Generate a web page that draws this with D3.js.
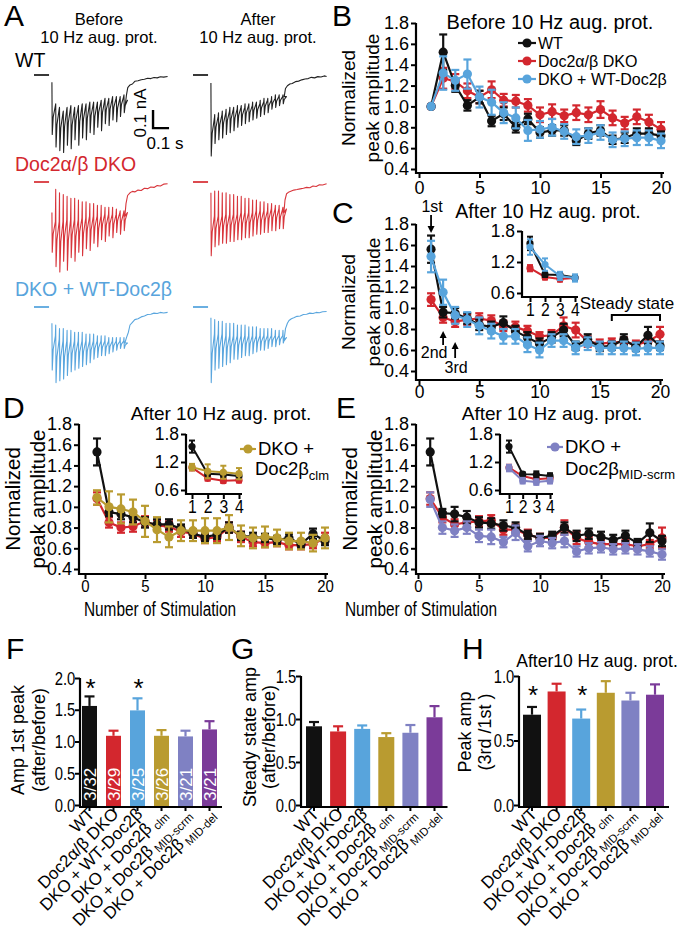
<!DOCTYPE html>
<html><head><meta charset="utf-8">
<script src="https://cdn.jsdelivr.net/npm/d3@7/dist/d3.min.js"></script>
<style>
html,body{margin:0;padding:0;background:#fff;}
svg{display:block;font-family:"Liberation Sans",Arial,Helvetica,sans-serif;}
</style></head><body>
<svg id="fig" width="677" height="933"></svg>
<script>
// ================= DATA =================
const stimNumbers = d3.range(1, 21);
const yTicksLine = [0.4, 0.6, 0.8, 1.0, 1.2, 1.4, 1.6, 1.8];
const xTicksLine = [0, 5, 10, 15, 20];
const insetYTicks = [0.6, 1.2, 1.8];
const insetXTicks = [1, 2, 3, 4];

// Panel B : before 10 Hz augmentation protocol
const bWT     = [1.00,1.52,1.20,1.01,1.09,0.86,0.93,0.80,0.88,0.75,0.77,0.77,0.67,0.74,0.77,0.68,0.70,0.74,0.74,0.72];
const bWTErr  = [0,0.17,0.06,0.05,0.06,0.05,0.06,0.05,0.05,0.05,0.05,0.05,0.04,0.05,0.05,0.04,0.05,0.05,0.05,0.04];
const bDKO    = [1.00,1.27,1.24,1.15,1.09,1.16,1.06,1.05,1.01,0.92,0.95,0.91,0.94,0.92,0.97,0.89,0.84,0.90,0.85,0.78];
const bDKOErr = [0,0.10,0.07,0.07,0.06,0.08,0.06,0.06,0.06,0.07,0.07,0.06,0.07,0.07,0.08,0.07,0.06,0.07,0.07,0.07];
const bRes    = [1.00,1.32,1.25,1.31,1.09,1.04,0.94,0.89,0.77,0.78,0.80,0.76,0.71,0.72,0.75,0.68,0.69,0.70,0.70,0.67];
const bResErr = [0,0.16,0.10,0.14,0.10,0.12,0.10,0.10,0.10,0.08,0.08,0.07,0.07,0.07,0.07,0.07,0.07,0.07,0.07,0.07];

// Panel C : after protocol
const cWT     = [1.56,0.96,0.95,0.90,0.84,0.82,0.86,0.78,0.72,0.66,0.72,0.79,0.64,0.70,0.63,0.64,0.70,0.63,0.74,0.64];
const cWTErr  = [0.13,0.05,0.05,0.05,0.05,0.05,0.06,0.05,0.05,0.05,0.05,0.06,0.04,0.05,0.04,0.04,0.05,0.04,0.08,0.04];
const cDKO    = [1.08,0.91,0.87,0.89,0.90,0.88,0.83,0.82,0.78,0.73,0.74,0.83,0.79,0.68,0.66,0.67,0.68,0.65,0.68,0.75];
const cDKOErr = [0.06,0.05,0.05,0.05,0.05,0.05,0.05,0.05,0.05,0.04,0.05,0.08,0.07,0.05,0.04,0.04,0.04,0.04,0.05,0.07];
const cRes    = [1.49,1.15,0.93,0.89,0.83,0.78,0.73,0.73,0.65,0.60,0.69,0.69,0.62,0.66,0.62,0.62,0.62,0.61,0.62,0.62];
const cResErr = [0.15,0.12,0.08,0.07,0.08,0.07,0.07,0.07,0.07,0.07,0.06,0.06,0.06,0.06,0.06,0.06,0.06,0.06,0.06,0.06];

// Panel D : after protocol, Doc2beta clm
const dWT     = [1.53,0.95,0.93,0.90,0.85,0.83,0.83,0.79,0.74,0.71,0.73,0.80,0.72,0.71,0.70,0.68,0.70,0.64,0.74,0.67];
const dWTErr  = [0.13,0.04,0.05,0.05,0.05,0.05,0.05,0.04,0.04,0.04,0.04,0.05,0.04,0.04,0.04,0.04,0.04,0.04,0.05,0.04];
const dDKO    = [1.08,0.85,0.80,0.81,0.86,0.82,0.81,0.76,0.74,0.69,0.71,0.80,0.71,0.66,0.65,0.66,0.63,0.63,0.64,0.70];
const dDKOErr = [0.06,0.05,0.05,0.05,0.05,0.05,0.05,0.05,0.04,0.04,0.04,0.05,0.05,0.04,0.04,0.04,0.04,0.04,0.04,0.05];
const dClm    = [1.09,1.00,0.98,0.95,0.86,0.78,0.71,0.77,0.77,0.77,0.77,0.80,0.72,0.70,0.71,0.70,0.67,0.67,0.65,0.70];
const dClmErr = [0.07,0.15,0.14,0.12,0.15,0.12,0.10,0.10,0.10,0.12,0.12,0.12,0.10,0.10,0.10,0.08,0.08,0.08,0.08,0.10];

// Panel E : after protocol, Doc2beta MID-scrm
const eWT     = [1.53,0.94,0.93,0.90,0.85,0.84,0.82,0.80,0.73,0.70,0.72,0.80,0.72,0.74,0.71,0.68,0.72,0.65,0.75,0.67];
const eWTErr  = [0.13,0.04,0.07,0.06,0.05,0.05,0.05,0.05,0.04,0.04,0.04,0.05,0.05,0.05,0.05,0.05,0.05,0.04,0.09,0.05];
const eDKO    = [1.08,0.90,0.83,0.85,0.86,0.87,0.78,0.78,0.73,0.70,0.70,0.80,0.70,0.66,0.64,0.64,0.64,0.62,0.64,0.70];
const eDKOErr = [0.06,0.05,0.05,0.05,0.05,0.05,0.05,0.05,0.05,0.04,0.04,0.07,0.06,0.05,0.04,0.04,0.04,0.04,0.04,0.10];
const eScrm   = [1.07,0.80,0.77,0.80,0.72,0.71,0.66,0.75,0.62,0.67,0.65,0.67,0.57,0.60,0.61,0.59,0.60,0.59,0.57,0.54];
const eScrmErr= [0.07,0.06,0.06,0.06,0.06,0.07,0.05,0.07,0.05,0.05,0.05,0.06,0.05,0.05,0.05,0.05,0.05,0.05,0.05,0.05];

// Bar panels F, G, H
const barGroups  = ["WT","Doc2α/β DKO","DKO + WT-Doc2β","DKO + Doc2β clm","DKO + Doc2β MID-scrm","DKO + Doc2β MID-del"];
const barMain    = ["WT","Doc2α/β DKO","DKO + WT-Doc2β","DKO + Doc2β","DKO + Doc2β","DKO + Doc2β"];
const barSub     = ["","","","clm","MID-scrm","MID-del"];
const firstPeak     = [1.56,1.09,1.49,1.09,1.08,1.19];
const firstPeakErr  = [0.15,0.08,0.19,0.09,0.09,0.13];
const cellCounts    = ["3/32","3/29","3/25","3/26","3/21","3/21"];
const firstPeakSig  = [true,false,true,false,false,false];
const steadyState   = [0.915,0.855,0.885,0.79,0.84,1.02];
const steadyErr     = [0.05,0.06,0.04,0.045,0.09,0.13];
const thirdFirst    = [0.70,0.88,0.67,0.87,0.81,0.855];
const thirdFirstErr = [0.06,0.06,0.07,0.09,0.06,0.08];
const thirdFirstSig = [true,false,true,false,false,false];
const fTicks = [0,0.5,1.0,1.5,2.0];
const gTicks = [0,0.5,1.0,1.5];
const hTicks = [0,0.5,1.0];

// Panel A traces (current in nA relative to baseline; stimulus train then recovery tail [t (s), I (nA)])
const stimStart = 0.012, stimInterval = 0.0237, stubRange = [-0.1, -0.006];
const wtBeforeArt  = [-0.04,-0.16,-0.18,-0.20,-0.18,-0.17,-0.18,-0.17,-0.16,-0.16,-0.15,-0.15,-0.15,-0.14,-0.13,-0.13,-0.12,-0.12,-0.12,-0.11];
const wtBeforePeak = [-0.33,-0.40,-0.42,-0.43,-0.39,-0.41,-0.36,-0.39,-0.35,-0.36,-0.32,-0.33,-0.29,-0.31,-0.27,-0.28,-0.25,-0.26,-0.23,-0.21];
const wtBeforeRec  = [-0.17,-0.19,-0.21,-0.19,-0.18,-0.19,-0.18,-0.17,-0.17,-0.16,-0.16,-0.16,-0.15,-0.14,-0.14,-0.13,-0.13,-0.13,-0.12,-0.14];
const wtBeforeTail = [[0.47,-0.17],[0.478,-0.11],[0.486,-0.07],[0.50,-0.055],[0.515,-0.05],[0.53,-0.035],[0.55,-0.032],[0.57,-0.026],[0.59,-0.024],[0.61,-0.018],[0.63,-0.02],[0.65,-0.014],[0.67,-0.016],[0.69,-0.01],[0.71,-0.012],[0.735,-0.008]];
const wtAfterArt   = [-0.045,-0.22,-0.21,-0.20,-0.19,-0.18,-0.18,-0.17,-0.17,-0.16,-0.16,-0.15,-0.15,-0.14,-0.13,-0.13,-0.12,-0.11,-0.11,-0.11];
const wtAfterPeak  = [-0.45,-0.38,-0.36,-0.35,-0.33,-0.32,-0.31,-0.29,-0.28,-0.27,-0.26,-0.25,-0.24,-0.23,-0.22,-0.21,-0.19,-0.18,-0.17,-0.16];
const wtAfterRec   = [-0.24,-0.23,-0.22,-0.21,-0.20,-0.19,-0.19,-0.18,-0.18,-0.17,-0.17,-0.16,-0.16,-0.15,-0.14,-0.14,-0.13,-0.12,-0.12,-0.12];
const wtAfterTail  = [[0.47,-0.12],[0.478,-0.075],[0.49,-0.06],[0.505,-0.05],[0.52,-0.047],[0.54,-0.037],[0.56,-0.034],[0.58,-0.027],[0.60,-0.022],[0.62,-0.02],[0.64,-0.013],[0.66,-0.016],[0.68,-0.009],[0.70,-0.011],[0.72,-0.005],[0.735,-0.008]];
const dkoBeforeArt  = [-0.17,-0.04,-0.06,-0.07,-0.08,-0.09,-0.09,-0.10,-0.11,-0.11,-0.12,-0.12,-0.13,-0.13,-0.14,-0.14,-0.14,-0.15,-0.16,-0.16];
const dkoBeforePeak = [-0.39,-0.47,-0.50,-0.44,-0.49,-0.42,-0.44,-0.39,-0.41,-0.37,-0.38,-0.34,-0.36,-0.32,-0.33,-0.30,-0.31,-0.28,-0.29,-0.27];
const dkoBeforeRec  = [-0.22,-0.22,-0.22,-0.21,-0.21,-0.21,-0.21,-0.20,-0.20,-0.19,-0.19,-0.19,-0.19,-0.18,-0.18,-0.18,-0.18,-0.17,-0.17,-0.17];
const dkoBeforeTail = [[0.468,-0.19],[0.475,-0.12],[0.485,-0.075],[0.50,-0.06],[0.515,-0.052],[0.53,-0.055],[0.55,-0.045],[0.57,-0.047],[0.59,-0.035],[0.61,-0.037],[0.63,-0.028],[0.65,-0.03],[0.67,-0.02],[0.69,-0.022],[0.71,-0.012],[0.735,-0.01]];
const dkoAfterArt   = [-0.06,-0.05,-0.05,-0.06,-0.06,-0.07,-0.07,-0.08,-0.08,-0.09,-0.09,-0.10,-0.10,-0.11,-0.11,-0.12,-0.12,-0.13,-0.13,-0.14];
const dkoAfterPeak  = [-0.41,-0.36,-0.35,-0.34,-0.34,-0.33,-0.33,-0.32,-0.32,-0.31,-0.31,-0.30,-0.29,-0.29,-0.28,-0.28,-0.27,-0.27,-0.26,-0.26];
const dkoAfterRec   = [-0.19,-0.19,-0.19,-0.18,-0.18,-0.18,-0.18,-0.17,-0.17,-0.17,-0.17,-0.16,-0.16,-0.16,-0.16,-0.15,-0.15,-0.15,-0.15,-0.15];
const dkoAfterTail  = [[0.468,-0.17],[0.475,-0.10],[0.485,-0.065],[0.50,-0.055],[0.515,-0.05],[0.53,-0.045],[0.55,-0.042],[0.57,-0.038],[0.59,-0.035],[0.61,-0.03],[0.63,-0.032],[0.65,-0.022],[0.67,-0.025],[0.69,-0.015],[0.71,-0.017],[0.735,-0.01]];
const resBeforeArt  = [-0.09,-0.10,-0.12,-0.12,-0.13,-0.13,-0.14,-0.14,-0.14,-0.15,-0.15,-0.15,-0.16,-0.16,-0.16,-0.17,-0.17,-0.17,-0.17,-0.17];
const resBeforePeak = [-0.35,-0.42,-0.41,-0.40,-0.38,-0.36,-0.35,-0.34,-0.33,-0.32,-0.31,-0.29,-0.28,-0.27,-0.27,-0.26,-0.25,-0.24,-0.23,-0.23];
const resBeforeRec  = [-0.16,-0.18,-0.19,-0.19,-0.19,-0.19,-0.19,-0.19,-0.19,-0.19,-0.19,-0.19,-0.19,-0.19,-0.19,-0.19,-0.19,-0.19,-0.19,-0.20];
const resBeforeTail = [[0.468,-0.20],[0.478,-0.17],[0.49,-0.14],[0.50,-0.10],[0.515,-0.085],[0.53,-0.07],[0.55,-0.065],[0.57,-0.055],[0.59,-0.05],[0.61,-0.042],[0.63,-0.04],[0.65,-0.034],[0.67,-0.036],[0.69,-0.03],[0.71,-0.033],[0.735,-0.03]];
const resAfterArt   = [-0.06,-0.07,-0.08,-0.08,-0.09,-0.09,-0.09,-0.10,-0.10,-0.10,-0.11,-0.11,-0.11,-0.12,-0.12,-0.12,-0.12,-0.13,-0.13,-0.13];
const resAfterPeak  = [-0.42,-0.35,-0.34,-0.33,-0.32,-0.31,-0.29,-0.29,-0.28,-0.27,-0.27,-0.26,-0.25,-0.24,-0.24,-0.23,-0.22,-0.22,-0.21,-0.20];
const resAfterRec   = [-0.15,-0.15,-0.15,-0.16,-0.16,-0.16,-0.16,-0.16,-0.16,-0.16,-0.16,-0.16,-0.16,-0.16,-0.16,-0.16,-0.16,-0.16,-0.16,-0.17];
const resAfterTail  = [[0.468,-0.19],[0.478,-0.12],[0.49,-0.09],[0.50,-0.075],[0.515,-0.065],[0.53,-0.06],[0.55,-0.052],[0.57,-0.05],[0.59,-0.042],[0.61,-0.04],[0.63,-0.034],[0.65,-0.036],[0.67,-0.03],[0.69,-0.032],[0.71,-0.026],[0.735,-0.025]];
const scaleBarI = 0.1, scaleBarT = 0.1;

// ================= DRAWING =================
const COL = {wt:"#111111", dko:"#d3272e", res:"#58a4dc", clm:"#b99b30", scrm:"#7f81c3", del:"#7b3b99"};
const barColors = [COL.wt, COL.dko, COL.res, COL.clm, COL.scrm, COL.del];
const svg = d3.select("#fig");
const fmt1 = d3.format(".1f");
const fmtInt = d3.format("d");

function txt(g, s, x, y, o = {}) {
  let tr = `translate(${x},${y})`;
  if (o.rot) tr += ` rotate(${o.rot})`;
  if (o.sx) tr += ` scale(${o.sx},1)`;
  const t = g.append("text").attr("transform", tr)
    .attr("font-size", o.size || 18).attr("text-anchor", o.anchor || "start")
    .attr("fill", o.fill || "#000").text(s);
  if (o.db) t.attr("dominant-baseline", o.db);
  return t;
}
function richTxt(g, main, sub, x, y, o = {}) {
  const t = txt(g, main, x, y, o);
  if (sub) {
    t.append("tspan").attr("font-size", o.subSize || 13).attr("dy", o.subDy || 5).attr("dx", o.subDx || 0).text(sub);
  }
  return t;
}
function styleAxis(sel, fs, sx) {
  sel.attr("font-size", fs).attr("font-family", null);
  sel.select(".domain").remove();
  sel.selectAll(".tick line").attr("stroke", "#000").attr("stroke-width", 2);
  sel.selectAll(".tick text").attr("fill", "#000");
  if (sx) sel.selectAll(".tick text").attr("transform", `scale(${sx},1)`);
}
function hLine(g, x1, x2, y, w = 2.2) { g.append("line").attr("x1", x1).attr("x2", x2).attr("y1", y).attr("y2", y).attr("stroke", "#000").attr("stroke-width", w); }
function vLine(g, x, y1, y2, w = 2.2) { g.append("line").attr("x1", x).attr("x2", x).attr("y1", y1).attr("y2", y2).attr("stroke", "#000").attr("stroke-width", w); }

function drawSeries(g, x, y, series, r, cap, sw) {
  series.forEach(s => {
    const pts = s.m.map((v, i) => ({n: i + 1, v, e: s.e[i]}));
    g.append("path").datum(pts).attr("fill", "none").attr("stroke", s.color)
      .attr("stroke-width", sw).attr("d", d3.line().x(d => x(d.n)).y(d => y(d.v)));
    const eb = g.append("g").attr("stroke", s.color).attr("stroke-width", sw);
    pts.filter(d => d.e > 0).forEach(d => {
      const cx = x(d.n), y1 = y(d.v + d.e), y2 = y(d.v - d.e);
      eb.append("line").attr("x1", cx).attr("x2", cx).attr("y1", y1).attr("y2", y2);
      eb.append("line").attr("x1", cx - cap).attr("x2", cx + cap).attr("y1", y1).attr("y2", y1);
      eb.append("line").attr("x1", cx - cap).attr("x2", cx + cap).attr("y1", y2).attr("y2", y2);
    });
    g.append("g").selectAll("circle").data(pts).join("circle")
      .attr("cx", d => x(d.n)).attr("cy", d => y(d.v)).attr("r", r).attr("fill", s.color);
  });
}

function linePanel(o) {
  const g = svg.append("g");
  const x = d3.scaleLinear().domain([0, 20]).range([o.x0, o.x1]);
  const y = d3.scaleLinear().domain([0.4, 1.8]).range([o.yBot, o.yTop]);
  const ya = g.append("g").attr("transform", `translate(${o.axX},0)`)
    .call(d3.axisLeft(y).tickValues(yTicksLine).tickFormat(fmt1).tickSize(5).tickPadding(2));
  styleAxis(ya, 18);
  const xa = g.append("g").attr("transform", `translate(0,${o.axY})`)
    .call(d3.axisBottom(x).tickValues(xTicksLine).tickFormat(fmtInt).tickSize(5).tickPadding(o.xPad || 3));
  styleAxis(xa, o.xFs || 18, o.xsx);
  vLine(g, o.axX, o.yTop, o.axY + 1);
  hLine(g, o.axX - 1, o.x1 + 3, o.axY);
  drawSeries(g, x, y, o.series, 4.6, 4, 2.2);
  txt(g, o.title, o.titleX, o.titleY, {size: o.titleFs || 19.5, anchor: "middle"});
  const cy = (o.yTop + o.axY) / 2;
  txt(g, "Normalized", o.yl1, cy, {size: o.ylFs || 19, anchor: "middle", rot: -90, db: "central"});
  txt(g, "peak amplitude", o.yl2, cy, {size: o.ylFs || 19, anchor: "middle", rot: -90, db: "central"});
  if (o.xlabel) txt(g, "Number of Stimulation", o.xlabelX, o.xlabelY, {size: 20, anchor: "middle", sx: 0.77});
  if (o.inset) {
    const n = o.inset;
    const ix = d3.scaleLinear().domain([1, 4]).range([n.x1, n.x4]);
    const iy = d3.scaleLinear().domain([0.6, 1.8]).range([n.yBot, n.yTop]);
    const iya = g.append("g").attr("transform", `translate(${n.axX},0)`)
      .call(d3.axisLeft(iy).tickValues(insetYTicks).tickFormat(fmt1).tickSize(5).tickPadding(2));
    styleAxis(iya, 17.5);
    const ixa = g.append("g").attr("transform", `translate(0,${n.axY})`)
      .call(d3.axisBottom(ix).tickValues(insetXTicks).tickFormat(fmtInt).tickSize(5).tickPadding(2));
    styleAxis(ixa, 17.5, 0.9);
    vLine(g, n.axX, n.yTop, n.axY + 1);
    hLine(g, n.axX - 1, n.x4 + 3, n.axY);
    drawSeries(g, ix, iy, o.series.map(s => ({m: s.m.slice(0, 4), e: s.e.slice(0, 4), color: s.color})), 3.6, 3, 2);
  }
  return {g, x, y};
}

function letter(s, x, y) { txt(svg, s, x, y, {size: 30}); }

// ---------- Panel A ----------
const gA = svg.append("g");
letter("A", 4, 26);
txt(gA, "Before", 99, 24.5, {size: 16.5, anchor: "middle"});
txt(gA, "10 Hz aug. prot.", 99, 43, {size: 16.5, anchor: "middle"});
txt(gA, "After", 258, 24.5, {size: 16.5, anchor: "middle"});
txt(gA, "10 Hz aug. prot.", 258, 43, {size: 16.5, anchor: "middle"});
txt(gA, "WT", 15, 67, {size: 19.5});
txt(gA, "Doc2α/β DKO", 15, 171, {size: 19.5, fill: COL.dko});
txt(gA, "DKO + WT-Doc2β", 15, 296, {size: 19.5, fill: COL.res});

function drawTrace(ox, oy, art, peak, rec, tail, color) {
  const x = d3.scaleLinear().domain([0, 1]).range([ox, ox + 160]);
  const y = d3.scaleLinear().domain([0, -1]).range([oy, oy + 180]);
  const line = d3.line().x(d => x(d[0])).y(d => y(d[1]));
  gA.append("path").attr("d", line(stubRange.map(t => [t, 0]))).attr("stroke", color).attr("stroke-width", 1.8).attr("fill", "none");
  const pts = [];
  peak.forEach((p, i) => {
    const t = stimStart + i * stimInterval;
    pts.push([t, art[i]], [t + 0.002, p], [t + 0.008, rec[i] + (p - rec[i]) * 0.4], [t + stimInterval - 0.002, rec[i]]);
  });
  tail.forEach(d => pts.push(d));
  gA.append("path").attr("d", line(pts)).attr("stroke", color).attr("stroke-width", 1.1).attr("fill", "none").attr("stroke-linejoin", "round");
  return {x, y};
}
const wtB = drawTrace(50, 75, wtBeforeArt, wtBeforePeak, wtBeforeRec, wtBeforeTail, "#222");
drawTrace(209, 75, wtAfterArt, wtAfterPeak, wtAfterRec, wtAfterTail, "#222");
drawTrace(50, 182, dkoBeforeArt, dkoBeforePeak, dkoBeforeRec, dkoBeforeTail, "#d8363c");
drawTrace(209, 182, dkoAfterArt, dkoAfterPeak, dkoAfterRec, dkoAfterTail, "#d8363c");
drawTrace(50, 307, resBeforeArt, resBeforePeak, resBeforeRec, resBeforeTail, "#5aa6de");
drawTrace(209, 307, resAfterArt, resAfterPeak, resAfterRec, resAfterTail, "#5aa6de");
// scale bar
{
  const t0 = 0.644, i0 = -0.295;
  const sb = d3.line().x(d => wtB.x(d[0])).y(d => wtB.y(d[1]));
  gA.append("path").attr("d", sb([[t0, i0 + scaleBarI], [t0, i0], [t0 + scaleBarT, i0]]))
    .attr("stroke", "#000").attr("stroke-width", 2.4).attr("fill", "none");
  txt(gA, "0.1 nA", 140, 113, {size: 17, anchor: "middle", rot: -90, db: "central"});
  txt(gA, "0.1 s", 165, 149, {size: 17, anchor: "middle"});
}

// ---------- Panel B ----------
letter("B", 332, 26);
const pB = linePanel({x0: 419, x1: 661, yTop: 23, yBot: 169, axX: 416, axY: 173,
  series: [{m: bDKO, e: bDKOErr, color: COL.dko}, {m: bWT, e: bWTErr, color: COL.wt}, {m: bRes, e: bResErr, color: COL.res}],
  title: "Before 10 Hz aug. prot.", titleX: 550, titleY: 29, titleFs: 20, yl1: 348, yl2: 372});
{
  const lg = svg.append("g");
  const items = [["WT", COL.wt], ["Doc2α/β DKO", COL.dko], ["DKO + WT-Doc2β", COL.res]];
  const ly = d3.scalePoint().domain(items.map(d => d[0])).range([43, 79]);
  items.forEach(([name, c]) => {
    lg.append("line").attr("x1", 518).attr("x2", 536).attr("y1", ly(name)).attr("y2", ly(name)).attr("stroke", c).attr("stroke-width", 2.2);
    lg.append("circle").attr("cx", 527).attr("cy", ly(name)).attr("r", 4.6).attr("fill", c);
    txt(lg, name, 538, ly(name) + 6, {size: 16});
  });
}

// ---------- Panel C ----------
letter("C", 332, 223);
const pC = linePanel({x0: 419, x1: 660, yTop: 224, yBot: 371, axX: 416, axY: 380, xPad: 1, xFs: 17.5,
  series: [{m: cDKO, e: cDKOErr, color: COL.dko}, {m: cWT, e: cWTErr, color: COL.wt}, {m: cRes, e: cResErr, color: COL.res}],
  title: "After 10 Hz aug. prot.", titleX: 548, titleY: 218, yl1: 348, yl2: 373,
  inset: {axX: 522, x1: 530, x4: 575, yTop: 231, yBot: 293, axY: 297}});
{
  const g = pC.g, x = pC.x;
  function arrow(xp, yTail, yHead) {
    const dir = yHead > yTail ? 1 : -1;
    g.append("line").attr("x1", xp).attr("x2", xp).attr("y1", yTail).attr("y2", yHead - dir * 5).attr("stroke", "#000").attr("stroke-width", 1.8);
    g.append("path").attr("d", `M${xp - 3.5},${yHead - dir * 7}L${xp + 3.5},${yHead - dir * 7}L${xp},${yHead}Z`).attr("fill", "#000");
  }
  txt(g, "1st", x(1) + 1, 212, {size: 16, anchor: "middle"});
  arrow(x(1), 215, 233);
  txt(g, "2nd", x(2) - 9, 358, {size: 16, anchor: "middle"});
  arrow(x(2), 345, 331);
  txt(g, "3rd", x(3) + 1, 373, {size: 16, anchor: "middle"});
  arrow(x(3), 358, 342);
  txt(g, "Steady state", 627, 309, {size: 17, anchor: "middle"});
  g.append("path").attr("d", `M${x(16)},321V315H${x(20)}V321`).attr("fill", "none").attr("stroke", "#000").attr("stroke-width", 2);
}

// ---------- Panel D ----------
letter("D", 3, 418);
const pD = linePanel({x0: 85, x1: 325, yTop: 424, yBot: 569, axX: 79, axY: 574, xPad: 1, xFs: 17,
  series: [{m: dDKO, e: dDKOErr, color: COL.dko}, {m: dWT, e: dWTErr, color: COL.wt}, {m: dClm, e: dClmErr, color: COL.clm}],
  title: "After 10 Hz aug. prot.", titleX: 221, titleY: 419.5, titleFs: 19, yl1: 12, yl2: 37, ylFs: 20.5,
  xlabel: true, xlabelX: 160, xlabelY: 616, xsx: 0.88,
  inset: {axX: 186, x1: 192, x4: 239, yTop: 434, yBot: 490, axY: 494}});
{
  const g = pD.g;
  g.append("line").attr("x1", 240).attr("x2", 256).attr("y1", 449).attr("y2", 449).attr("stroke", COL.clm).attr("stroke-width", 2.2);
  g.append("circle").attr("cx", 248).attr("cy", 449).attr("r", 4.6).attr("fill", COL.clm);
  txt(g, "DKO +", 258, 455, {size: 18.5});
  richTxt(g, "Doc2β", "clm", 255, 475, {size: 18.5, subSize: 13, subDy: 5});
}

// ---------- Panel E ----------
letter("E", 336, 418);
const pE = linePanel({x0: 418, x1: 662, yTop: 424, yBot: 569, axX: 416, axY: 574, xPad: 1, xFs: 17,
  series: [{m: eDKO, e: eDKOErr, color: COL.dko}, {m: eWT, e: eWTErr, color: COL.wt}, {m: eScrm, e: eScrmErr, color: COL.scrm}],
  title: "After 10 Hz aug. prot.", titleX: 552, titleY: 419.5, titleFs: 19, yl1: 349, yl2: 374, ylFs: 20.5,
  xlabel: true, xlabelX: 421, xlabelY: 616, xsx: 0.88,
  inset: {axX: 500, x1: 509, x4: 550, yTop: 434, yBot: 490, axY: 494}});
{
  const g = pE.g;
  g.append("line").attr("x1", 547).attr("x2", 563).attr("y1", 447).attr("y2", 447).attr("stroke", COL.scrm).attr("stroke-width", 2.2);
  g.append("circle").attr("cx", 555).attr("cy", 447).attr("r", 4.6).attr("fill", COL.scrm);
  txt(g, "DKO +", 565, 453, {size: 18.5});
  richTxt(g, "Doc2β", "MID-scrm", 565, 475, {size: 18.5, subSize: 13, subDy: 4});
}

// ---------- Bar panels ----------
function barPanel(o) {
  const g = svg.append("g");
  const x = d3.scalePoint().domain(barGroups).range([o.c0, o.c1]);
  const y = d3.scaleLinear().domain([0, o.ymax]).range([805, o.yTop]);
  const ya = g.append("g").attr("transform", `translate(${o.axX},0)`)
    .call(d3.axisLeft(y).tickValues(o.ticks).tickFormat(fmt1).tickSize(5).tickPadding(1));
  styleAxis(ya, 19, 0.78);
  vLine(g, o.axX, o.yTop, 807);
  g.selectAll("rect").data(barGroups).join("rect")
    .attr("x", d => x(d) - o.bw / 2).attr("width", o.bw)
    .attr("y", (d, i) => y(o.vals[i])).attr("height", (d, i) => 806 - y(o.vals[i]))
    .attr("fill", (d, i) => barColors[i]);
  barGroups.forEach((d, i) => {
    const cx = x(d), yt = y(o.vals[i] + o.errs[i]);
    g.append("line").attr("x1", cx).attr("x2", cx).attr("y1", y(o.vals[i])).attr("y2", yt).attr("stroke", barColors[i]).attr("stroke-width", 2.2);
    g.append("line").attr("x1", cx - 5).attr("x2", cx + 5).attr("y1", yt).attr("y2", yt).attr("stroke", barColors[i]).attr("stroke-width", 2.2);
    vLine(g, cx, 806, 811, 2);
    if (o.sig && o.sig[i]) txt(g, "*", cx + 1, o.starY, {size: 26, anchor: "middle"});
    if (o.counts) txt(g, o.counts[i], cx + 6, 801, {size: 17, rot: -90, fill: "#fff"});
    richTxt(g, barMain[i], barSub[i], cx + 6, 815, {size: 17, anchor: "end", rot: -45, subSize: 11.5, subDy: 4, subDx: 3});
  });
  hLine(g, o.axX - 1, o.c1 + o.bw / 2 + 5, 807);
  const cy = (o.yTop + 807) / 2;
  txt(g, o.yl[0], o.ylx[0], o.ylCy || cy, {size: 18, anchor: "middle", rot: -90, db: "central"});
  txt(g, o.yl[1], o.ylx[1], o.ylCy || cy, {size: 18, anchor: "middle", rot: -90, db: "central"});
  return g;
}

letter("F", 6, 659);
barPanel({c0: 89.5, c1: 209.5, bw: 15, axX: 80, ymax: 2.0, yTop: 678, ticks: fTicks,
  vals: firstPeak, errs: firstPeakErr, sig: firstPeakSig, starY: 697, counts: cellCounts,
  yl: ["Amp 1st peak", "(after/before)"], ylx: [18, 39], ylCy: 740});

letter("G", 231, 659);
barPanel({c0: 314, c1: 434.5, bw: 16, axX: 301, ymax: 1.5, yTop: 676, ticks: gTicks,
  vals: steadyState, errs: steadyErr,
  yl: ["Steady state amp", "(after/before)"], ylx: [250, 269], ylCy: 737});

letter("H", 462, 659);
const gH = barPanel({c0: 532, c1: 655, bw: 18, axX: 519, ymax: 1.0, yTop: 676, ticks: hTicks,
  vals: thirdFirst, errs: thirdFirstErr, sig: thirdFirstSig, starY: 704,
  yl: ["Peak amp", "(3rd /1st )"], ylx: [465, 485], ylCy: 732});
txt(gH, "After10 Hz aug. prot.", 597, 667, {size: 17.5, anchor: "middle"});
</script>
</body></html>
